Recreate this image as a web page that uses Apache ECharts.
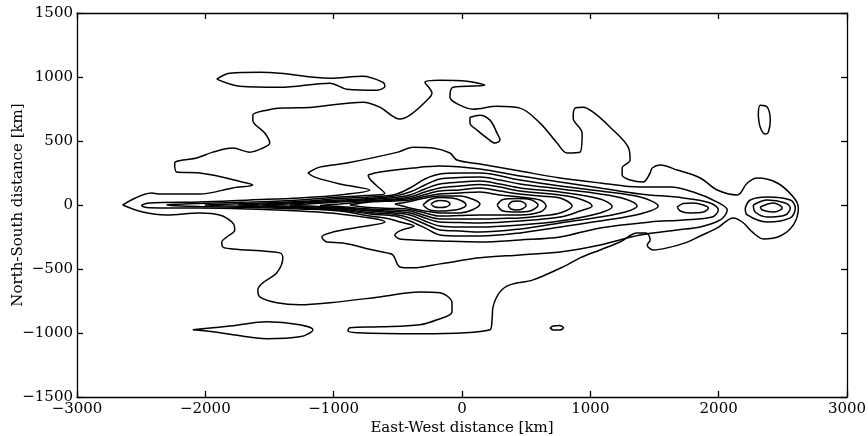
<!DOCTYPE html>
<html>
<head>
<meta charset="utf-8">
<script src="https://cdn.jsdelivr.net/npm/echarts@6/dist/echarts.min.js"></script>
<style>
html, body { margin: 0; padding: 0; background: #ffffff; }
#chart { width: 868px; height: 436px; }
</style>
</head>
<body>
<div id="chart"></div>
<script>
// Contour lines of the emission map, as closed polylines of [east-west km, north-south km].

// Lowest level: the large envelope around the whole jet
const contourOuter = [
  [-2644,0],[-2418,94],[-2356,86],[-2044,86],[-1786,133],[-1630,156],[-1677,172],[-2044,250],
  [-2223,257],[-2239,328],[-2176,351],[-2067,367],[-1942,413],[-1786,445],[-1654,413],[-1552,445],
  [-1498,484],[-1537,562],[-1630,663],[-1630,702],[-1521,741],[-1396,757],[-1162,764],[-772,803],
  [-640,764],[-484,671],[-406,702],[-273,819],[-234,874],[-289,959],[-172,975],[39,967],[179,936],
  [-70,920],[-94,842],[-16,780],[86,749],[273,772],[452,757],[608,640],[741,484],[819,406],[920,413],
  [936,562],[866,679],[881,757],[944,764],[1022,725],[1154,608],[1295,452],[1310,351],[1248,289],
  [1248,234],[1310,195],[1412,179],[1466,250],[1482,289],[1544,312],[1677,273],[1856,211],[1989,117],
  [2145,78],[2223,172],[2301,211],[2457,172],[2582,62],[2621,-23],[2582,-156],[2480,-242],[2348,-265],
  [2270,-218],[2184,-133],[2114,-101],[1989,-179],[1856,-242],[1739,-296],[1599,-335],[1490,-351],
  [1443,-312],[1466,-273],[1435,-218],[1365,-218],[1232,-289],[1076,-351],[920,-413],[819,-468],
  [554,-585],[374,-624],[296,-679],[242,-796],[234,-897],[218,-975],[-328,-1006],[-819,-998],
  [-889,-983],[-874,-959],[-640,-952],[-328,-936],[-195,-897],[-78,-835],[-78,-764],[-172,-686],
  [-328,-679],[-640,-718],[-1030,-764],[-1264,-780],[-1443,-764],[-1576,-718],[-1591,-663],
  [-1552,-608],[-1443,-530],[-1396,-413],[-1420,-374],[-1786,-343],[-1864,-328],[-1872,-289],
  [-1833,-250],[-1771,-195],[-1786,-140],[-1888,-78],[-2044,-62],[-2301,-78],[-2488,-55]
];

// Detached lowest-level patches
const islandNorthWest = [
  [-1911,983],[-1810,1030],[-1576,1037],[-1420,1030],[-1030,991],[-772,1006],[-616,959],[-601,928],
  [-663,897],[-897,905],[-1030,952],[-1420,920],[-1732,928]
];
const islandNorthCentre = [
  [62,686],[140,702],[218,663],[273,562],[296,507],[257,484],[195,523],[117,585],[62,640]
];
const islandNorthEast = [
  [2309,702],[2324,780],[2379,764],[2402,663],[2387,569],[2363,554],[2324,608]
];
const islandSouthWest = [
  [-2098,-975],[-1942,-959],[-1786,-944],[-1521,-913],[-1264,-936],[-1162,-975],[-1264,-1030],
  [-1521,-1045],[-1786,-1014],[-1942,-991]
];
const islandSouthCentre = [
  [686,-960],[710,-945],[760,-942],[790,-960],[760,-977],[710,-976]
];

// Nested levels along the jet
const jetLevel2 = [
  [-1201,250],[-1108,296],[-897,328],[-499,413],[-382,452],[-226,445],[-94,406],[-39,351],[140,320],
  [452,265],[764,211],[1076,172],[1388,140],[1622,140],[1802,101],[1989,23],[2067,-39],[2012,-117],
  [1856,-172],[1677,-195],[1388,-234],[1076,-312],[764,-367],[452,-390],[140,-413],[-172,-460],
  [-382,-491],[-484,-484],[-538,-390],[-585,-374],[-694,-351],[-928,-296],[-1053,-289],[-1092,-250],
  [-1006,-211],[-796,-172],[-601,-133],[-952,-70],[-1264,-47],[-1654,-31],[-2044,-23],[-2356,-23],
  [-2457,-20],[-2496,-4],[-2434,16],[-2044,23],[-1654,39],[-1264,55],[-952,78],[-718,117],[-952,164],
  [-1147,218]
];
const jetLevel3 = [
  [-733,234],[-640,257],[-382,289],[-172,304],[140,281],[452,226],[764,179],[1076,133],[1388,86],
  [1724,55],[1934,16],[1997,-39],[1950,-94],[1724,-117],[1466,-133],[1076,-179],[764,-250],
  [452,-273],[140,-289],[-172,-281],[-382,-273],[-484,-265],[-523,-234],[-468,-195],[-374,-164],
  [-484,-133],[-562,-109],[-718,-86],[-952,-47],[-1264,-31],[-1654,-20],[-2044,-12],[-2239,-5],
  [-2301,0],[-2239,5],[-2044,12],[-1654,23],[-1264,39],[-952,62],[-757,74],[-601,90],[-671,156],
  [-718,203]
];
const jetLevel4 = [
  [-2005,0],[-1654,12],[-1264,27],[-952,51],[-718,62],[-523,82],[-406,133],[-289,203],[-172,242],
  [-16,250],[140,250],[452,195],[764,148],[1076,109],[1388,62],[1529,-8],[1388,-70],[1076,-125],
  [764,-172],[452,-218],[140,-242],[-16,-242],[-172,-234],[-289,-179],[-406,-125],[-523,-86],
  [-718,-70],[-952,-39],[-1264,-23],[-1654,-12]
];
const jetLevel4East = [
  [1677,-16],[1724,12],[1802,16],[1880,0],[1919,-23],[1880,-55],[1778,-62],[1700,-47]
];
const jetLevel5 = [
  [-1747,0],[-1654,4],[-1264,20],[-952,39],[-718,51],[-523,70],[-406,101],[-289,156],[-172,203],
  [-16,215],[140,218],[296,195],[452,164],[764,125],[1076,86],[1271,47],[1365,-8],[1271,-55],
  [1076,-94],[764,-140],[452,-187],[140,-211],[-16,-203],[-172,-195],[-289,-148],[-406,-101],
  [-523,-74],[-718,-59],[-952,-31],[-1264,-20],[-1654,-4]
];
const jetLevel6 = [
  [-1560,0],[-1264,12],[-952,31],[-718,43],[-523,59],[-406,78],[-289,125],[-172,164],[-16,179],
  [140,187],[296,164],[452,133],[764,101],[1076,47],[1170,-12],[1076,-62],[764,-125],[452,-156],
  [140,-172],[-16,-172],[-172,-164],[-289,-125],[-406,-78],[-523,-62],[-718,-47],[-952,-25],
  [-1264,-12]
];
const jetLevel7 = [
  [-1342,0],[-1264,4],[-952,23],[-718,35],[-523,47],[-406,62],[-289,101],[-172,133],[-16,148],
  [140,160],[296,140],[452,109],[764,78],[920,47],[1014,-8],[920,-47],[764,-94],[452,-125],
  [140,-140],[-16,-137],[-172,-133],[-289,-101],[-406,-62],[-523,-51],[-718,-39],[-952,-20],
  [-1264,-4]
];
const jetLevel8 = [
  [-1108,-4],[-952,8],[-718,27],[-523,39],[-406,51],[-289,82],[-172,109],[-16,117],[140,133],
  [296,109],[452,86],[608,70],[764,55],[858,-8],[764,-62],[608,-86],[452,-101],[296,-105],
  [140,-109],[-16,-109],[-172,-109],[-289,-82],[-406,-47],[-523,-39],[-718,-31],[-952,-12]
];
const jetLevel9 = [
  [-874,0],[-718,23],[-523,31],[-406,39],[-289,66],[-172,86],[-16,94],[140,101],[296,78],[452,62],
  [608,39],[655,-8],[608,-55],[452,-78],[296,-78],[140,-78],[-16,-82],[-172,-86],[-289,-62],
  [-406,-35],[-523,-27],[-718,-20]
];
const jetLevel10 = [
  [-523,8],[-406,27],[-289,55],[-172,70],[-16,70],[78,47],[140,8],[78,-39],[-16,-62],[-172,-62],
  [-289,-47],[-406,-23]
];
const jetLevel11 = [
  [-304,0],[-250,43],[-172,59],[-78,55],[0,31],[31,0],[-16,-31],[-94,-43],[-172,-47],[-250,-39]
];
const jetLevel12 = [
  [-242,8],[-211,27],[-172,35],[-125,31],[-94,8],[-125,-16],[-172,-20],[-211,-16]
];

// Secondary knot east of the core
const knotOuter = [
  [273,0],[320,43],[429,51],[530,43],[593,0],[530,-47],[429,-55],[320,-47]
];
const knotInner = [
  [359,-4],[390,27],[429,31],[476,23],[499,-4],[468,-31],[429,-39],[382,-31]
];

// Terminal hot spot at the eastern end
const hotSpotLevel2 = [
  [2207,-23],[2246,39],[2379,62],[2558,39],[2597,-23],[2558,-101],[2379,-133],[2223,-78]
];
const hotSpotLevel3 = [
  [2270,0],[2379,39],[2519,16],[2558,-23],[2519,-78],[2379,-94],[2285,-55]
];
const hotSpotLevel4 = [
  [2324,-16],[2426,16],[2496,-23],[2426,-55],[2340,-39]
];

const allContours = [
  contourOuter, islandNorthWest, islandNorthCentre, islandNorthEast, islandSouthWest, islandSouthCentre,
  jetLevel2, jetLevel3, jetLevel4, jetLevel4East, jetLevel5, jetLevel6, jetLevel7, jetLevel8,
  jetLevel9, jetLevel10, jetLevel11, jetLevel12, knotOuter, knotInner,
  hotSpotLevel2, hotSpotLevel3, hotSpotLevel4
];

const FONT = '"DejaVu Serif", "Liberation Serif", serif';
const minusSign = v => String(v).replace('-', '\u2212');

const series = allContours.map(pts => ({
  type: 'line',
  data: pts.concat([pts[0]]),
  showSymbol: false,
  symbol: 'none',
  smooth: 0.35,
  silent: true,
  clip: true,
  lineStyle: { color: '#000000', width: 1.5 }
}));

const axisLineStyle = { color: '#000000', width: 1.3 };
const tickStyle = { color: '#000000', width: 1.3 };
const labelStyle = { color: '#000', fontFamily: FONT, fontSize: 15 };

const option = {
  animation: false,
  backgroundColor: '#ffffff',
  grid: { left: 77, right: 21, top: 13, bottom: 39, outerBoundsMode: 'none', containLabel: false },
  xAxis: [
    {
      type: 'value', min: -3000, max: 3000, interval: 1000, position: 'bottom',
      axisLine: { show: true, onZero: false, lineStyle: axisLineStyle },
      axisTick: { show: true, inside: true, length: 6, lineStyle: tickStyle },
      axisLabel: Object.assign({ margin: 5, formatter: minusSign }, labelStyle),
      splitLine: { show: false },
      name: 'East-West distance [km]', nameLocation: 'middle', nameGap: 24,
      nameMoveOverlap: false,
      nameTextStyle: labelStyle
    },
    {
      type: 'value', min: -3000, max: 3000, interval: 1000, position: 'top',
      axisLine: { show: true, onZero: false, lineStyle: axisLineStyle },
      axisTick: { show: true, inside: true, length: 6, lineStyle: tickStyle },
      axisLabel: { show: false }, splitLine: { show: false }
    }
  ],
  yAxis: [
    {
      type: 'value', min: -1500, max: 1500, interval: 500, position: 'left',
      axisLine: { show: true, onZero: false, lineStyle: axisLineStyle },
      axisTick: { show: true, inside: true, length: 6, lineStyle: tickStyle },
      axisLabel: Object.assign({ margin: 4, formatter: minusSign }, labelStyle),
      splitLine: { show: false },
      name: 'North-South distance [km]', nameLocation: 'middle', nameGap: 51,
      nameMoveOverlap: false,
      nameTextStyle: labelStyle
    },
    {
      type: 'value', min: -1500, max: 1500, interval: 500, position: 'right',
      axisLine: { show: true, onZero: false, lineStyle: axisLineStyle },
      axisTick: { show: true, inside: true, length: 6, lineStyle: tickStyle },
      axisLabel: { show: false }, splitLine: { show: false }
    }
  ],
  series: series
};

const chart = echarts.init(document.getElementById('chart'), null, { renderer: 'canvas' });
chart.setOption(option);
</script>
</body>
</html>
